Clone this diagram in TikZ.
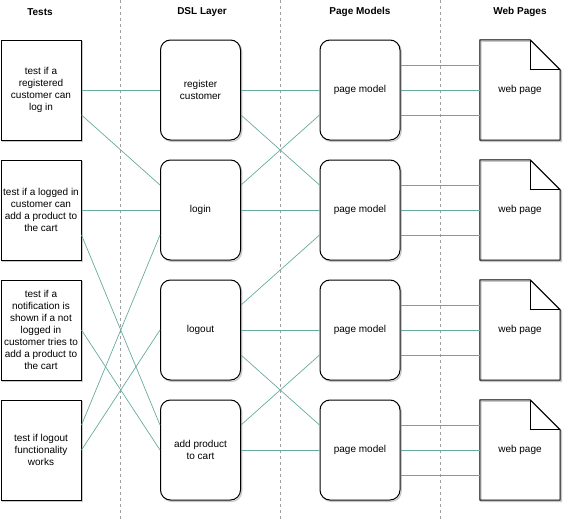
\documentclass[tikz,border=0pt]{standalone}
\usepackage{fontspec}
\setmainfont{Liberation Sans}
\usepackage{xcolor}
\usetikzlibrary{positioning}
\definecolor{linkteal}{HTML}{67AB9F}
\definecolor{dividergray}{HTML}{A0A0A0}
\definecolor{sketchgray}{HTML}{C8C8C8}

\begin{document}
\begin{tikzpicture}[x=1pt, y=-1pt,
    every node/.style={font=\fontsize{10}{12}\selectfont, align=center},
    header/.style={font=\fontsize{10}{12}\selectfont\bfseries},
    sketch/.style={preaction={draw=sketchgray, line width=1.2pt,
        transform canvas={shift={(1.2pt,-1.4pt)}}}},
    testbox/.style={sketch, draw, line width=1pt, fill=white, inner sep=0pt,
        minimum width=80pt, minimum height=100pt},
    dslbox/.style={testbox, rounded corners=10pt},
    pagebox/.style={inner sep=0pt, minimum width=80pt, minimum height=100pt},
    link/.style={draw=linkteal, line width=0.7pt},
    divider/.style={draw=dividergray, dashed, dash pattern=on 3pt off 3pt, line width=0.5pt}]
  \useasboundingbox (0,0) rectangle (563,522);

  % column dividers
  \foreach \x in {120,280,440}
    \draw[divider] (\x,0) -- (\x,522);

  % headers
  \node[header] (hTests) at (40,12) {Tests};
  \node[header] (hDsl) at (202,12) {DSL Layer};
  \node[header] (hModels) at (360,12) {Page Models};
  \node[header] (hPages) at (520,12) {Web Pages};

  % tests
  \node[testbox] (t1) at (41,90) {test if a\\registered\\customer can\\log in};
  \node[testbox] (t2) at (41,210) {test if a logged in\\customer can\\add a product to\\the cart};
  \node[testbox] (t3) at (41,330) {test if a\\notification is\\shown if a not\\logged in\\customer tries to\\add a product to\\the cart};
  \node[testbox] (t4) at (41,450) {test if logout\\functionality\\works};

  % dsl layer
  \node[dslbox] (d1) at (200.5,90) {register\\customer};
  \node[dslbox] (d2) at (200.5,210) {login};
  \node[dslbox] (d3) at (200.5,330) {logout};
  \node[dslbox] (d4) at (200.5,450) {add product\\to cart};

  % page models
  \foreach \i/\y in {1/90,2/210,3/330,4/450}
    \node[dslbox] (p\i) at (360,\y) {page model};

  % web pages
  \foreach \i/\y in {1/90,2/210,3/330,4/450} {
    \node[pagebox] (w\i) at (520,\y) {web page};
    \draw[sketch, line width=1pt, line join=round]
      (w\i.north west) -- ([xshift=-30pt]w\i.north east)
      -- ([yshift=-30pt]w\i.north east) -- (w\i.south east)
      -- (w\i.south west) -- cycle;
    \draw[line width=0.8pt] ([xshift=-30pt]w\i.north east)
      |- ([yshift=-30pt]w\i.north east);
  }

  % connectors
  \foreach \a/\b in {t1/d1,t2/d2,t3/d4,t4/d3,d1/p1,d2/p2,d3/p3,d4/p4}
    \draw[link] (\a.east) -- (\b.west);
  \foreach \a/\b in {t1/d2,t2/d4,d1/p2,d3/p4}
    \draw[link] ([yshift=-25pt]\a.east) -- ([yshift=25pt]\b.west);
  \foreach \a/\b in {t4/d2,d2/p1,d3/p2,d4/p3}
    \draw[link] ([yshift=25pt]\a.east) -- ([yshift=-25pt]\b.west);
  \foreach \i in {1,...,4}
    \foreach \s in {-25,0,25}
      \draw[link] ([yshift=\s pt]p\i.east) -- ([yshift=\s pt]w\i.west);
\end{tikzpicture}
\end{document}
